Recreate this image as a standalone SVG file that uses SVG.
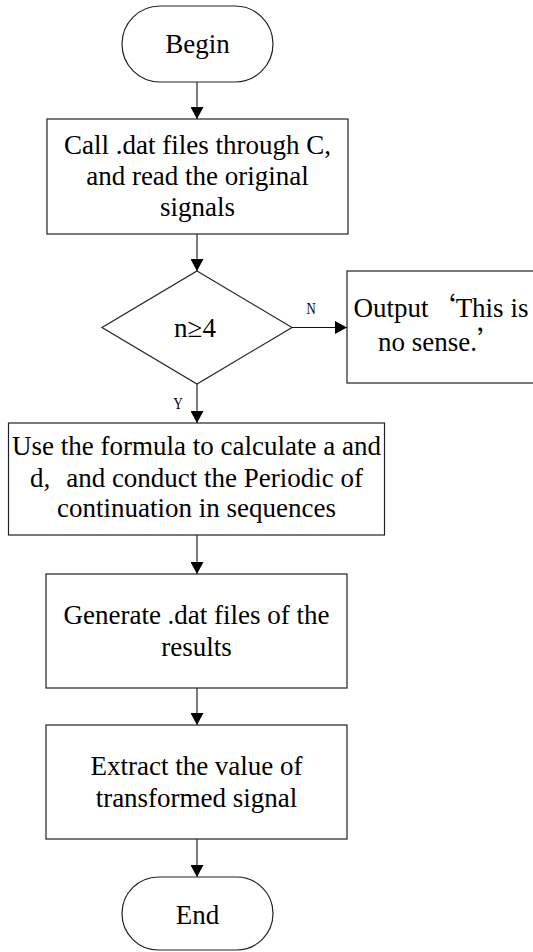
<svg xmlns="http://www.w3.org/2000/svg" width="533" height="952" viewBox="0 0 533 952">
<style>
.shape{fill:#fff;stroke:#222;stroke-width:1.2}
.conn{fill:none;stroke:#111;stroke-width:1.1;marker-end:url(#arr)}
text{font-family:"Liberation Serif","Times New Roman",serif;fill:#000}
.t{font-size:27px;text-anchor:middle}
.lbl{font-size:17px;text-anchor:middle}
.cjk{font-family:"Noto Sans CJK SC",sans-serif}
</style>
<defs>
<marker id="arr" markerUnits="userSpaceOnUse" markerWidth="13" markerHeight="13" refX="12" refY="6.5" orient="auto">
<path d="M0,0 L12,6.5 L0,13 z" fill="#000"/>
</marker>
</defs>
<rect width="533" height="952" fill="#fff"/>
<g id="connectors">
<line class="conn" x1="197" y1="82" x2="197" y2="119"/>
<line class="conn" x1="197" y1="234" x2="197" y2="271"/>
<line class="conn" x1="292" y1="327.5" x2="347" y2="327.5"/>
<line class="conn" x1="197" y1="384" x2="197" y2="423"/>
<line class="conn" x1="197" y1="535" x2="197" y2="574"/>
<line class="conn" x1="197" y1="688" x2="197" y2="725"/>
<line class="conn" x1="197" y1="839" x2="197" y2="877"/>
<text class="lbl" transform="translate(311,314) scale(0.75,1)">N</text>
<text class="lbl" transform="translate(178,409) scale(0.75,1)">Y</text>
</g>
<g id="begin">
<rect class="shape" x="122" y="6" width="151" height="76" rx="38"/>
<text class="t" x="197.5" y="53">Begin</text>
</g>
<g id="read">
<rect class="shape" x="47" y="119" width="301" height="115"/>
<text class="t" x="197.5" y="154">Call .dat files through C,</text>
<text class="t" x="197.5" y="185">and read the original</text>
<text class="t" x="197.5" y="216">signals</text>
</g>
<g id="decision">
<polygon class="shape" points="197,271 292,327.5 197,384 102,327.5"/>
<text class="t" x="195" y="337">n≥4</text>
</g>
<g id="output">
<rect class="shape" x="347" y="271" width="192" height="112"/>
<text class="t" x="441" y="317">Output<tspan class="cjk">‘</tspan>This is</text>
<text class="t" x="441" y="351">no sense.<tspan class="cjk">’</tspan></text>
</g>
<g id="calc">
<rect class="shape" x="8.5" y="423" width="376" height="112"/>
<text class="t" x="196.5" y="455">Use the formula to calculate a and</text>
<text class="t" x="196.5" y="486.5">d,<tspan dx="16">and conduct the Periodic of</tspan></text>
<text class="t" x="196.5" y="517">continuation in sequences</text>
</g>
<g id="generate">
<rect class="shape" x="46" y="574" width="301" height="114"/>
<text class="t" x="196.5" y="624">Generate .dat files of the</text>
<text class="t" x="196.5" y="656">results</text>
</g>
<g id="extract">
<rect class="shape" x="46" y="725" width="301" height="114"/>
<text class="t" x="196.5" y="775">Extract the value of</text>
<text class="t" x="196.5" y="807">transformed signal</text>
</g>
<g id="end">
<rect class="shape" x="122" y="877" width="151" height="73" rx="36.5"/>
<text class="t" x="197.5" y="924">End</text>
</g>
</svg>
